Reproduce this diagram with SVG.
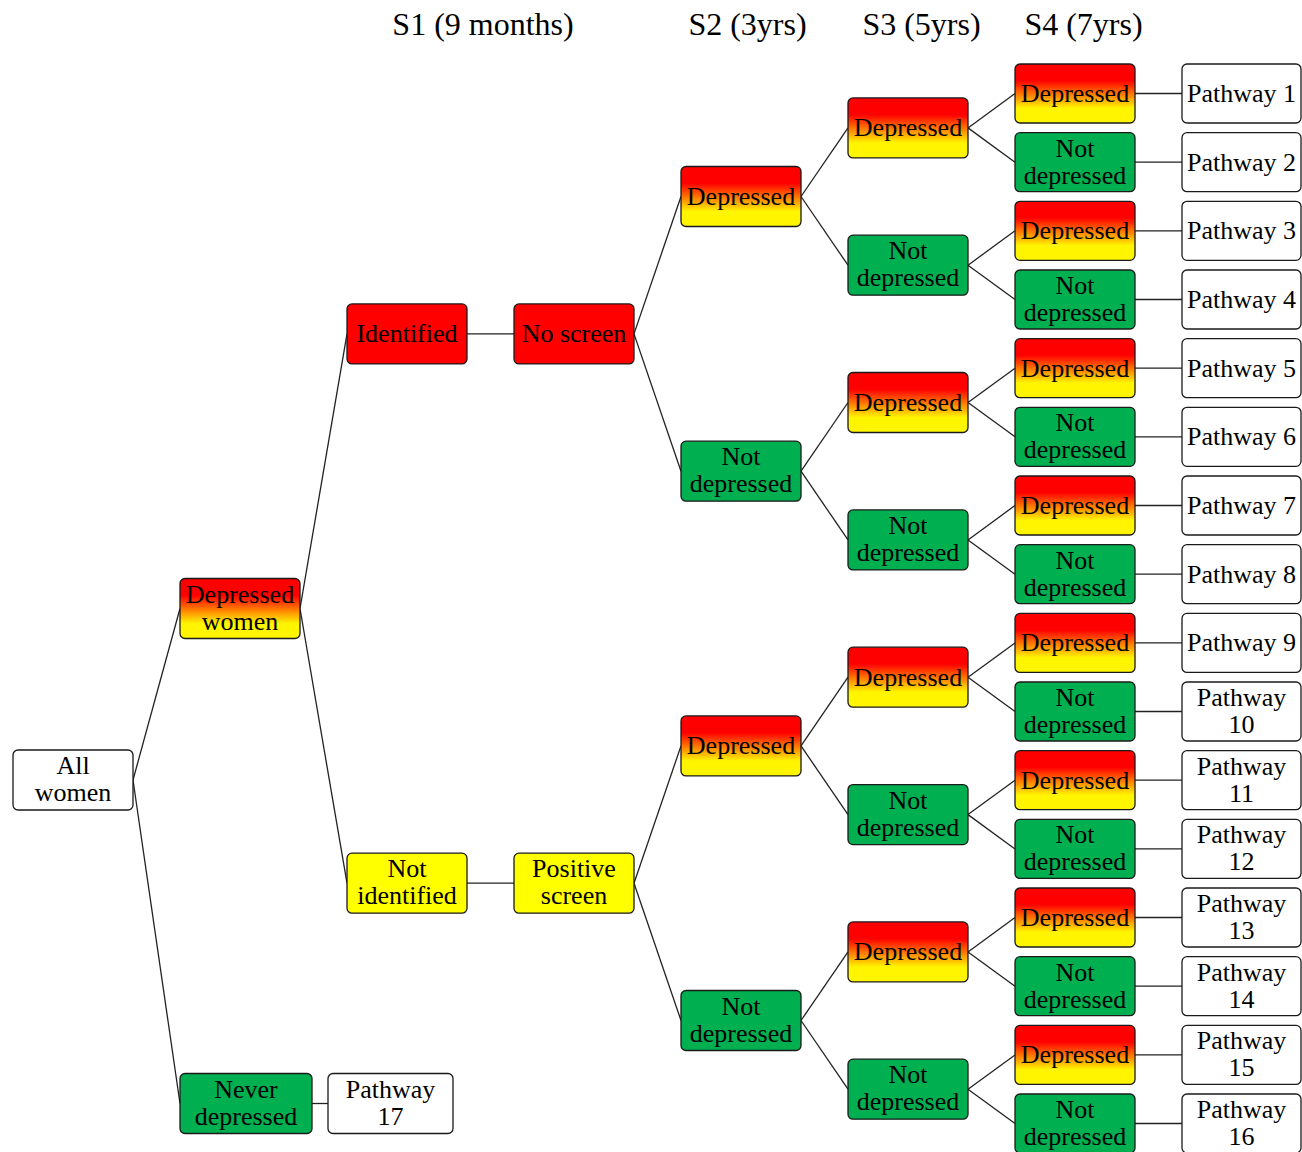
<svg xmlns="http://www.w3.org/2000/svg" width="1302" height="1152" viewBox="0 0 1302 1152">
<defs>
<linearGradient id="dep" x1="0" y1="0" x2="0" y2="1">
<stop offset="0" stop-color="#FF0000"/>
<stop offset="0.28" stop-color="#FF0000"/>
<stop offset="0.75" stop-color="#FFF500"/>
<stop offset="1" stop-color="#FFF500"/>
</linearGradient>
<style>
text{font-family:"Liberation Serif","Times New Roman",serif;font-size:26px;fill:#000;text-anchor:middle}
.hdr{font-size:32px}
g rect{stroke:#1a1a1a;stroke-width:1.3}
.w{fill:#fff}
.g{fill:url(#dep)}
.gr{fill:#00B050}
.r{fill:#FF0000}
.y{fill:#FFFF00}
#connectors line{stroke:#222;stroke-width:1.3}
</style>
</defs>
<rect width="1302" height="1152" fill="#fff"/>
<g id="headers">
<text class="hdr" x="483" y="35">S1 (9 months)</text>
<text class="hdr" x="747.5" y="35">S2 (3yrs)</text>
<text class="hdr" x="921.5" y="35">S3 (5yrs)</text>
<text class="hdr" x="1083.5" y="35">S4 (7yrs)</text>
</g>
<g id="connectors">
<line x1="133" y1="780" x2="180" y2="608.5"/>
<line x1="133" y1="780" x2="180" y2="1103.5"/>
<line x1="300" y1="608.5" x2="347" y2="333.9"/>
<line x1="300" y1="608.5" x2="347" y2="883.2"/>
<line x1="312" y1="1103.5" x2="328" y2="1103.5"/>
<line x1="467" y1="333.9" x2="514" y2="333.9"/>
<line x1="467" y1="883.2" x2="514" y2="883.2"/>
<line x1="634" y1="333.9" x2="681" y2="196.5"/>
<line x1="634" y1="333.9" x2="681" y2="471.2"/>
<line x1="634" y1="883.2" x2="681" y2="745.9"/>
<line x1="634" y1="883.2" x2="681" y2="1020.5"/>
<line x1="801" y1="196.5" x2="848" y2="127.9"/>
<line x1="801" y1="196.5" x2="848" y2="265.2"/>
<line x1="801" y1="471.2" x2="848" y2="402.5"/>
<line x1="801" y1="471.2" x2="848" y2="539.9"/>
<line x1="801" y1="745.9" x2="848" y2="677.2"/>
<line x1="801" y1="745.9" x2="848" y2="814.6"/>
<line x1="801" y1="1020.5" x2="848" y2="951.9"/>
<line x1="801" y1="1020.5" x2="848" y2="1089.2"/>
<line x1="968" y1="127.9" x2="1015" y2="93.5"/>
<line x1="968" y1="127.9" x2="1015" y2="162.2"/>
<line x1="968" y1="265.2" x2="1015" y2="230.8"/>
<line x1="968" y1="265.2" x2="1015" y2="299.5"/>
<line x1="968" y1="402.5" x2="1015" y2="368.2"/>
<line x1="968" y1="402.5" x2="1015" y2="436.8"/>
<line x1="968" y1="539.9" x2="1015" y2="505.5"/>
<line x1="968" y1="539.9" x2="1015" y2="574.2"/>
<line x1="968" y1="677.2" x2="1015" y2="642.9"/>
<line x1="968" y1="677.2" x2="1015" y2="711.5"/>
<line x1="968" y1="814.6" x2="1015" y2="780.2"/>
<line x1="968" y1="814.6" x2="1015" y2="848.9"/>
<line x1="968" y1="951.9" x2="1015" y2="917.5"/>
<line x1="968" y1="951.9" x2="1015" y2="986.2"/>
<line x1="968" y1="1089.2" x2="1015" y2="1054.9"/>
<line x1="968" y1="1089.2" x2="1015" y2="1123.5"/>
<line x1="1135" y1="93.5" x2="1182" y2="93.5"/>
<line x1="1135" y1="162.2" x2="1182" y2="162.2"/>
<line x1="1135" y1="230.8" x2="1182" y2="230.8"/>
<line x1="1135" y1="299.5" x2="1182" y2="299.5"/>
<line x1="1135" y1="368.2" x2="1182" y2="368.2"/>
<line x1="1135" y1="436.8" x2="1182" y2="436.8"/>
<line x1="1135" y1="505.5" x2="1182" y2="505.5"/>
<line x1="1135" y1="574.2" x2="1182" y2="574.2"/>
<line x1="1135" y1="642.9" x2="1182" y2="642.9"/>
<line x1="1135" y1="711.5" x2="1182" y2="711.5"/>
<line x1="1135" y1="780.2" x2="1182" y2="780.2"/>
<line x1="1135" y1="848.9" x2="1182" y2="848.9"/>
<line x1="1135" y1="917.5" x2="1182" y2="917.5"/>
<line x1="1135" y1="986.2" x2="1182" y2="986.2"/>
<line x1="1135" y1="1054.9" x2="1182" y2="1054.9"/>
<line x1="1135" y1="1123.5" x2="1182" y2="1123.5"/>
</g>
<g id="all-women"><rect class="w" x="13" y="750" width="120" height="60" rx="5"/><text x="73" y="774">All</text><text x="73" y="801">women</text></g>
<g id="depressed-women"><rect class="g" x="180" y="578.5" width="120" height="60" rx="5"/><text x="240" y="602.5">Depressed</text><text x="240" y="629.5">women</text></g>
<g id="never-depressed"><rect class="gr" x="180" y="1073.5" width="132" height="60" rx="5"/><text x="246" y="1097.5">Never</text><text x="246" y="1124.5">depressed</text></g>
<g id="pathway-17"><rect class="w" x="328" y="1073.5" width="125" height="60" rx="5"/><text x="390.5" y="1097.5">Pathway</text><text x="390.5" y="1124.5">17</text></g>
<g id="identified"><rect class="r" x="347" y="303.9" width="120" height="60" rx="5"/><text x="407" y="342.4">Identified</text></g>
<g id="not-identified"><rect class="y" x="347" y="853.2" width="120" height="60" rx="5"/><text x="407" y="877.2">Not</text><text x="407" y="904.2">identified</text></g>
<g id="no-screen"><rect class="r" x="514" y="303.9" width="120" height="60" rx="5"/><text x="574" y="342.4">No screen</text></g>
<g id="positive-screen"><rect class="y" x="514" y="853.2" width="120" height="60" rx="5"/><text x="574" y="877.2">Positive</text><text x="574" y="904.2">screen</text></g>
<g id="s2-1"><rect class="g" x="681" y="166.5" width="120" height="60" rx="5"/><text x="741" y="205">Depressed</text></g>
<g id="s2-2"><rect class="gr" x="681" y="441.2" width="120" height="60" rx="5"/><text x="741" y="465.2">Not</text><text x="741" y="492.2">depressed</text></g>
<g id="s2-3"><rect class="g" x="681" y="715.9" width="120" height="60" rx="5"/><text x="741" y="754.4">Depressed</text></g>
<g id="s2-4"><rect class="gr" x="681" y="990.5" width="120" height="60" rx="5"/><text x="741" y="1014.5">Not</text><text x="741" y="1041.5">depressed</text></g>
<g id="s3-1"><rect class="g" x="848" y="97.9" width="120" height="60" rx="5"/><text x="908" y="136.4">Depressed</text></g>
<g id="s3-2"><rect class="gr" x="848" y="235.2" width="120" height="60" rx="5"/><text x="908" y="259.2">Not</text><text x="908" y="286.2">depressed</text></g>
<g id="s3-3"><rect class="g" x="848" y="372.5" width="120" height="60" rx="5"/><text x="908" y="411">Depressed</text></g>
<g id="s3-4"><rect class="gr" x="848" y="509.9" width="120" height="60" rx="5"/><text x="908" y="533.9">Not</text><text x="908" y="560.9">depressed</text></g>
<g id="s3-5"><rect class="g" x="848" y="647.2" width="120" height="60" rx="5"/><text x="908" y="685.7">Depressed</text></g>
<g id="s3-6"><rect class="gr" x="848" y="784.6" width="120" height="60" rx="5"/><text x="908" y="808.6">Not</text><text x="908" y="835.6">depressed</text></g>
<g id="s3-7"><rect class="g" x="848" y="921.9" width="120" height="60" rx="5"/><text x="908" y="960.4">Depressed</text></g>
<g id="s3-8"><rect class="gr" x="848" y="1059.2" width="120" height="60" rx="5"/><text x="908" y="1083.2">Not</text><text x="908" y="1110.2">depressed</text></g>
<g id="s4-1"><rect class="g" x="1015" y="64" width="120" height="59" rx="5"/><text x="1075" y="102">Depressed</text></g>
<g id="s4-2"><rect class="gr" x="1015" y="132.7" width="120" height="59" rx="5"/><text x="1075" y="156.7">Not</text><text x="1075" y="183.7">depressed</text></g>
<g id="s4-3"><rect class="g" x="1015" y="201.3" width="120" height="59" rx="5"/><text x="1075" y="239.3">Depressed</text></g>
<g id="s4-4"><rect class="gr" x="1015" y="270" width="120" height="59" rx="5"/><text x="1075" y="294">Not</text><text x="1075" y="321">depressed</text></g>
<g id="s4-5"><rect class="g" x="1015" y="338.7" width="120" height="59" rx="5"/><text x="1075" y="376.7">Depressed</text></g>
<g id="s4-6"><rect class="gr" x="1015" y="407.3" width="120" height="59" rx="5"/><text x="1075" y="431.3">Not</text><text x="1075" y="458.3">depressed</text></g>
<g id="s4-7"><rect class="g" x="1015" y="476" width="120" height="59" rx="5"/><text x="1075" y="514">Depressed</text></g>
<g id="s4-8"><rect class="gr" x="1015" y="544.7" width="120" height="59" rx="5"/><text x="1075" y="568.7">Not</text><text x="1075" y="595.7">depressed</text></g>
<g id="s4-9"><rect class="g" x="1015" y="613.4" width="120" height="59" rx="5"/><text x="1075" y="651.4">Depressed</text></g>
<g id="s4-10"><rect class="gr" x="1015" y="682" width="120" height="59" rx="5"/><text x="1075" y="706">Not</text><text x="1075" y="733">depressed</text></g>
<g id="s4-11"><rect class="g" x="1015" y="750.7" width="120" height="59" rx="5"/><text x="1075" y="788.7">Depressed</text></g>
<g id="s4-12"><rect class="gr" x="1015" y="819.4" width="120" height="59" rx="5"/><text x="1075" y="843.4">Not</text><text x="1075" y="870.4">depressed</text></g>
<g id="s4-13"><rect class="g" x="1015" y="888" width="120" height="59" rx="5"/><text x="1075" y="926">Depressed</text></g>
<g id="s4-14"><rect class="gr" x="1015" y="956.7" width="120" height="59" rx="5"/><text x="1075" y="980.7">Not</text><text x="1075" y="1007.7">depressed</text></g>
<g id="s4-15"><rect class="g" x="1015" y="1025.4" width="120" height="59" rx="5"/><text x="1075" y="1063.4">Depressed</text></g>
<g id="s4-16"><rect class="gr" x="1015" y="1094" width="120" height="59" rx="5"/><text x="1075" y="1118">Not</text><text x="1075" y="1145">depressed</text></g>
<g id="pathway-1"><rect class="w" x="1182" y="64" width="119" height="59" rx="5"/><text x="1241.5" y="102">Pathway 1</text></g>
<g id="pathway-2"><rect class="w" x="1182" y="132.7" width="119" height="59" rx="5"/><text x="1241.5" y="170.7">Pathway 2</text></g>
<g id="pathway-3"><rect class="w" x="1182" y="201.3" width="119" height="59" rx="5"/><text x="1241.5" y="239.3">Pathway 3</text></g>
<g id="pathway-4"><rect class="w" x="1182" y="270" width="119" height="59" rx="5"/><text x="1241.5" y="308">Pathway 4</text></g>
<g id="pathway-5"><rect class="w" x="1182" y="338.7" width="119" height="59" rx="5"/><text x="1241.5" y="376.7">Pathway 5</text></g>
<g id="pathway-6"><rect class="w" x="1182" y="407.3" width="119" height="59" rx="5"/><text x="1241.5" y="445.3">Pathway 6</text></g>
<g id="pathway-7"><rect class="w" x="1182" y="476" width="119" height="59" rx="5"/><text x="1241.5" y="514">Pathway 7</text></g>
<g id="pathway-8"><rect class="w" x="1182" y="544.7" width="119" height="59" rx="5"/><text x="1241.5" y="582.7">Pathway 8</text></g>
<g id="pathway-9"><rect class="w" x="1182" y="613.4" width="119" height="59" rx="5"/><text x="1241.5" y="651.4">Pathway 9</text></g>
<g id="pathway-10"><rect class="w" x="1182" y="682" width="119" height="59" rx="5"/><text x="1241.5" y="706">Pathway</text><text x="1241.5" y="733">10</text></g>
<g id="pathway-11"><rect class="w" x="1182" y="750.7" width="119" height="59" rx="5"/><text x="1241.5" y="774.7">Pathway</text><text x="1241.5" y="801.7">11</text></g>
<g id="pathway-12"><rect class="w" x="1182" y="819.4" width="119" height="59" rx="5"/><text x="1241.5" y="843.4">Pathway</text><text x="1241.5" y="870.4">12</text></g>
<g id="pathway-13"><rect class="w" x="1182" y="888" width="119" height="59" rx="5"/><text x="1241.5" y="912">Pathway</text><text x="1241.5" y="939">13</text></g>
<g id="pathway-14"><rect class="w" x="1182" y="956.7" width="119" height="59" rx="5"/><text x="1241.5" y="980.7">Pathway</text><text x="1241.5" y="1007.7">14</text></g>
<g id="pathway-15"><rect class="w" x="1182" y="1025.4" width="119" height="59" rx="5"/><text x="1241.5" y="1049.4">Pathway</text><text x="1241.5" y="1076.4">15</text></g>
<g id="pathway-16"><rect class="w" x="1182" y="1094" width="119" height="59" rx="5"/><text x="1241.5" y="1118">Pathway</text><text x="1241.5" y="1145">16</text></g>
</svg>
